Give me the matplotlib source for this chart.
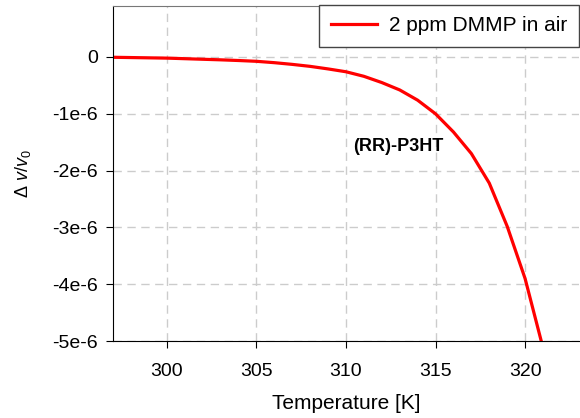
#!/usr/bin/env python3
import matplotlib
matplotlib.use("Agg")
import matplotlib.pyplot as plt

# Frequency shift vs temperature
temperature = [297, 298, 299, 300, 301, 302, 303, 304, 305, 306, 307, 308, 309,
               310, 311, 312, 313, 314, 315, 316, 317, 318, 319, 320, 321]
shift = [-0.005, -0.01, -0.015, -0.02, -0.03, -0.04, -0.05, -0.062, -0.076,
         -0.10, -0.13, -0.165, -0.21, -0.26, -0.34, -0.45, -0.58, -0.76,
         -1.00, -1.32, -1.70, -2.22, -2.98, -3.90, -5.12]
shift = [s * 1e-6 for s in shift]

xticks = [300, 305, 310, 315, 320]
yticks = [0, -1e-6, -2e-6, -3e-6, -4e-6, -5e-6]
ytick_labels = ["0", "-1e-6", "-2e-6", "-3e-6", "-4e-6", "-5e-6"]

plt.rcParams['font.family'] = ['Liberation Sans', 'DejaVu Sans']
plt.rcParams['mathtext.fontset'] = 'custom'
plt.rcParams['mathtext.rm'] = 'Liberation Sans'
plt.rcParams['mathtext.it'] = 'Liberation Sans:italic'

def main():
    fig = plt.figure(figsize=(5.8, 4.18), dpi=100)
    ax = fig.add_axes([0.195, 0.184, 0.803, 0.802])

    ax.plot(temperature, shift, color='#ff0000', lw=2.3, label='2 ppm DMMP in air')
    ax.set_xlim(297, 323)
    ax.set_ylim(-5e-6, 0.9e-6)
    ax.set_xticks(xticks)
    ax.set_yticks(yticks)
    ax.set_yticklabels(ytick_labels)
    ax.tick_params(labelsize=14, length=5, direction='out', pad=6)
    ax.tick_params(axis='x', pad=11)
    ax.grid(True, color='#cccccc', linestyle=(0, (6, 4)), lw=1)

    ax.spines['top'].set_color('#777777')
    ax.spines['right'].set_visible(False)
    for s in ['left', 'bottom']:
        ax.spines[s].set_color('black')

    ax.set_xlabel("Temperature [K]", fontsize=15, labelpad=10)
    ax.set_ylabel(r"$\Delta$ $\mathit{v}/\mathit{v}_0$", fontsize=13, labelpad=14)

    ax.text(312.9, -1.57e-6, "(RR)-P3HT", fontsize=13, fontweight='bold',
            ha='center', va='center')

    leg = ax.legend(loc='upper right', bbox_to_anchor=(1.0, 1.003), fontsize=15,
                    fancybox=False, framealpha=1, edgecolor='#444444',
                    handlelength=2.2, handletextpad=0.6, borderaxespad=0,
                    borderpad=0.55)
    leg.get_frame().set_linewidth(1)

    fig.savefig("out.png", dpi=100)

if __name__ == "__main__":
    main()
